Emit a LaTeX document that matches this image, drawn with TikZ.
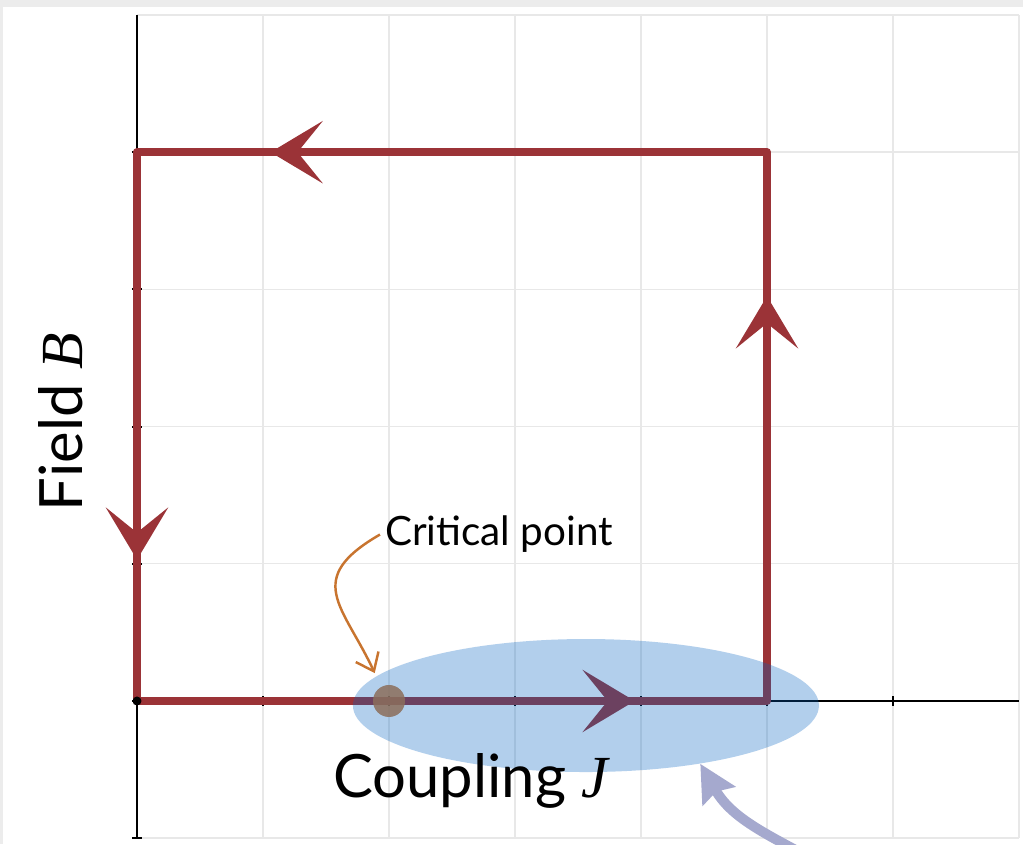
\documentclass[tikz,border=0pt]{standalone}
\usepackage{fontspec}
\setmainfont{Lato}
\newfontfamily\varserif{Liberation Serif}
\usetikzlibrary{arrows.meta}
\usetikzlibrary{shapes.geometric}
\usepackage{xcolor}
\usepackage{amsmath}
\definecolor{loopred}{RGB}{155,51,55}
\definecolor{critorange}{RGB}{200,116,47}
\definecolor{coupblue}{RGB}{0,98,194}
\definecolor{hintblue}{RGB}{165,169,206}
\definecolor{gridgray}{RGB}{232,232,232}
\definecolor{framegray}{RGB}{236,236,236}
\newcommand{\var}[1]{{\varserif\itshape #1}}

\begin{document}
\begin{tikzpicture}[x=2.52cm, y=2.744cm,
  loop/.style={loopred, line width=.17cm, line join=round},
  looparrow/.style={loop, -{Stealth[length=1.04cm, width=1.24cm, inset=.5cm]}},
  axisline/.style={black, line width=1.1pt},
  lbl/.style={inner sep=0, anchor=base west}]
\useasboundingbox (-1.0873,-1.0423) rectangle (7.0317,5.1093);
\fill[framegray] (-1.0873,-1.0423) rectangle (7.0317,5.1093);
\fill[white] (-1.0635,-1.0423) rectangle (7.0317,5.0583);
\clip (-1.0635,-1.0423) rectangle (7.0317,5.0583);
\draw[gridgray, line width=.8pt, step={(1,1)}] (0,-1) grid (7,5);
% axes
\draw[axisline] (0,-1)--(0,5);
\draw[axisline] (0,0)--(7,0);
\foreach \x in {1,...,6} \draw[axisline] (\x,.036)--++(0,-.072);
\foreach \y in {-1,...,4} \draw[axisline] (-.04,\y)--++(.08,0);
% the loop
\draw[loop] (0,0) rectangle (5,4);
\draw[looparrow] (3,4)--(1.06,4);
\draw[looparrow] (0,2.9)--(0,1.03);
\draw[looparrow] (1,0)--(3.95,0);
\draw[looparrow] (5,1)--(5,2.95);
\fill[black] (0,0) circle (.09cm);
% critical point and coupling region
\node[circle, fill=critorange, fill opacity=.85, minimum size=.64cm, inner sep=0] (crit) at (2,0) {};
\node[ellipse, fill=coupblue, fill opacity=.3, minimum width=9.32cm, minimum height=2.66cm, inner sep=0] (coup) at (3.563,-.033) {};
\node[lbl, font=\fontsize{23}{27}\selectfont] (critlabel) at (1.968,1.13) {Critical point};
\node[lbl, font=\fontsize{34}{40}\selectfont] (couplabel) at (1.556,-.7) {Coupling \var{J}};
\node[lbl, rotate=90, font=\fontsize{34}{40}\selectfont] (fieldlabel) at (-.429,1.378) {Field \var{B}};
\draw[critorange, line width=1.4pt, -{Straight Barb[length=.32cm, width=.5cm]}, shorten >=.3cm]
  ([xshift=-.1cm]critlabel.west) to[out=210, in=115, looseness=1.5] (crit.119);
\coordinate (hintstart) at (5.55,-1.25);
\draw[hintblue, line width=.2cm, -{Stealth[length=.74cm, width=.74cm, inset=.1cm]}]
  (hintstart) to[out=150, in=-60] (coup.-27);
\end{tikzpicture}
\end{document}
